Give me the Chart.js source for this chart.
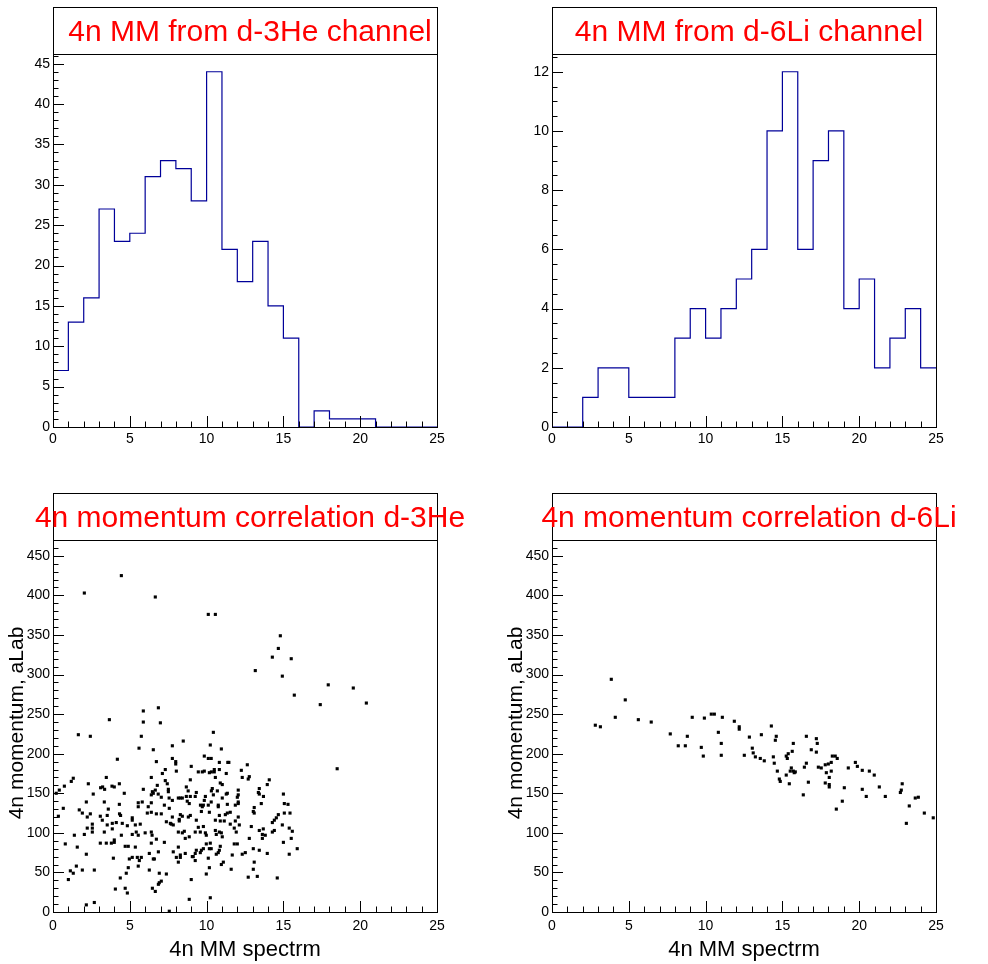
<!DOCTYPE html>
<html>
<head>
<meta charset="utf-8">
<script src="https://cdn.jsdelivr.net/npm/chart.js@4.4.1/dist/chart.umd.min.js"></script>
<style>
html,body{margin:0;padding:0;background:#fff;}
#wrap{position:relative;width:988px;height:964px;overflow:hidden;}
canvas{position:absolute;}
</style>
</head>
<body>
<div id="wrap">
  <canvas id="c1" width="494" height="482" style="left:0;top:0"></canvas>
  <canvas id="c2" width="494" height="482" style="left:494px;top:0"></canvas>
  <canvas id="c3" width="494" height="482" style="left:0;top:482px"></canvas>
  <canvas id="c4" width="494" height="482" style="left:494px;top:482px"></canvas>
</div>
<script>
// bin lower edges (0..24) plus the closing edge 25
const BIN_EDGES = [0,1,2,3,4,5,6,7,8,9,10,11,12,13,14,15,16,17,18,19,20,21,22,23,24,25];
const HIST_3HE = [7,13,16,27,23,24,31,33,32,28,44,22,18,23,15,11,0,2,1,1,1,0,0,0,0];
const HIST_6LI = [0,0,1,2,2,1,1,1,3,4,3,4,5,6,10,12,6,9,10,4,5,2,3,4,2];

const X_TICKS = [0,5,10,15,20,25];
const Y_TICKS_3HE = [0,5,10,15,20,25,30,35,40,45];
const Y_TICKS_6LI = [0,2,4,6,8,10,12];
const Y_TICKS_P = [0,50,100,150,200,250,300,350,400,450];

// [4n MM, 4n momentum]
const SCAT_3HE = [
  [2.04,403],[4.45,425],[6.66,398],[10.11,376],[10.57,376],[5.88,254],[6.86,258],
  [14.8,349],[14.67,333],[14.28,322],[15.51,320],[13.17,305],[14.93,298],[17.92,287],[19.55,283],
  [15.71,274],[17.4,262],[20.4,264],[18.5,181],
  [3.67,243],[5.88,240],[6.99,239],[1.65,224],[2.43,222],[5.75,222],[5.6,207],[6.53,205],[7.77,210],
  [4.19,193],[7.77,194],[6.73,190],[7.31,180],[7.12,175],[1.32,169],[1.19,165],[3.47,170],[6.4,170],
  [7.31,166],[0.74,159],[2.3,162],[3.84,159],[3.99,158],[4.32,162],[3.1,157],[3.23,158],[3.36,155],
  [6.79,160],[7.44,162],[0.41,154],[0.21,150],[2.62,149],[4.64,150],[5.88,155],[6.47,152],[6.4,148],
  [6.53,150],[6.66,154],[6.85,149],[7.51,155],[7.51,152],[7.05,145],[7.56,144],[2.17,139],[3.34,139],
  [4.32,136],[5.55,138],[5.81,139],[6.4,138],[7.25,135],[7.77,141],[0.67,131],[3.6,130],[5.55,133],
  [6.2,133],[7.57,131],[6.4,126],
  [0.35,121],[1.71,129],[1.91,125],[2.23,120],[2.43,124],[3.08,121],[3.53,122],[4.33,124],[4.4,122],
  [5.16,119],[5.16,116],[6.14,125],[6.73,124],[7.05,124],[7.77,120],[3.21,116],[2.56,111],[2.56,106],
  [2.56,101],[2.23,106],[3.53,110],[3.86,112],[4.12,113],[4.51,112],[4.84,109],[5.36,110],[5.68,111],
  [7.38,114],[7.7,111],[7.64,112],[7.83,110],[3.86,105],[3.34,101],[2.04,98],[1.39,97],[4.45,97],
  [5.16,98],[5.42,101],[5.55,97],[6.0,100],[6.4,101],[6.45,97],[3.08,87],[3.47,87],[3.8,87],[3.99,91],
  [3.99,88],[0.8,86],[1.58,82],[4.7,83],[4.9,83],[5.36,82],[6.4,87],[6.73,92],[7.25,88],[2.17,73],
  [7.83,76],[3.93,68],[4.97,67],[5.16,69],[5.49,69],[5.62,65],[5.75,69],[6.53,67],[6.6,67],[6.86,76],
  [6.27,74],[5.55,58],[4.9,56],[1.52,58],[1.13,52],[1.32,49],[1.91,53],[2.69,53],[4.77,49],[6.27,53],
  [6.92,49],[7.38,48],[1.0,41],[4.38,43],[7.05,39],[6.92,37],[6.86,35],[4.06,29],[4.7,30],[4.84,24],
  [6.47,30],[6.66,26],[2.69,12],[2.17,9],[7.57,1],
  [10.44,227],[8.48,216],[10.24,211],[10.96,206],[9.85,197],[10.11,194],[10.3,194],[7.99,187],[7.99,190],
  [10.83,189],[11.38,189],[11.45,189],[9.0,184],[12.65,186],[8.03,178],[9.46,177],[9.72,177],[9.85,178],
  [10.18,176],[10.31,177],[10.5,177],[10.5,180],[10.83,180],[11.28,175],[12.26,179],[10.57,170],
  [12.32,170],[12.71,168],[12.78,171],[8.94,167],[10.89,163],[11.02,161],[14.08,167],[13.95,161],
  [8.68,158],[8.8,153],[10.37,156],[10.31,153],[10.7,153],[9.33,151],[12.06,154],[13.43,156],[13.37,151],
  [13.43,149],[11.35,150],[11.28,149],[8.68,146],[8.94,146],[8.16,144],[8.29,144],[8.42,144],[9.26,146],
  [9.92,146],[10.44,148],[11.02,144],[12.06,148],[12.0,145],[13.7,146],[15.0,149],[8.74,140],[8.87,137],
  [9.85,141],[10.3,139],[10.76,135],[10.76,133],[11.35,136],[12.06,139],[12.06,137],[13.56,137],[9.6,135],
  [9.79,135],[9.72,133],[10.11,135],[11.87,135],[13.1,132],[15.06,137],[15.3,136],
  [8.29,123],[8.42,121],[8.22,117],[8.22,115],[8.81,120],[8.94,122],[9.66,127],[10.18,126],[10.83,122],
  [11.22,123],[11.35,125],[11.54,126],[12.06,120],[13.04,127],[13.1,125],[14.67,123],[15.06,125],
  [15.43,125],[14.54,119],[14.41,116],[14.28,113],[9.33,116],[10.57,116],[10.89,115],[11.15,115],
  [11.87,115],[11.54,111],[12.13,110],[12.91,108],[14.93,110],[9.46,107],[9.79,108],[11.8,106],
  [13.43,103],[13.69,105],[15.38,106],[15.58,102],[8.16,101],[8.42,100],[8.55,102],[9.26,101],[9.59,101],
  [9.92,100],[9.98,97],[10.57,103],[10.63,98],[10.83,101],[10.96,100],[11.02,95],[11.93,101],[13.63,98],
  [13.82,97],[14.28,101],[14.41,103],[8.61,93],[8.87,95],[12.78,93],[13.63,93],[15.51,93],[10.24,87],
  [9.98,86],[10.18,80],[10.3,80],[11.8,86],[12.0,86],[15.0,88],[10.89,83],[10.83,78],[10.76,75],
  [10.63,73],[8.16,82],[8.61,74],[9.33,78],[9.26,74],[9.13,70],[9.66,78],[9.79,80],[9.59,75],[10.11,68],
  [8.03,69],[8.29,69],[8.29,72],[8.16,63],[9.07,70],[9.26,65],[11.67,72],[12.32,73],[12.52,75],[13.04,80],
  [13.43,78],[13.95,74],[15.38,73],[15.9,80],[11.09,63],[10.96,60],[13.1,63],[10.18,56],[11.6,54],
  [13.04,54],[9.98,48],[12.71,44],[13.3,45],[14.6,43],[9.0,41],[8.87,16],[10.24,18]
];

const SCAT_6LI = [
  [2.82,236],[3.15,234],[3.86,294],[4.12,246],[4.77,268],[5.62,243],[6.46,240],[7.7,225],[8.22,210],
  [8.68,210],[8.81,222],[9.13,246],[9.72,208],[9.85,197],[9.92,245],[10.37,250],[10.57,250],[10.83,227],
  [11.02,213],[11.09,246],[11.02,198],[11.87,241],[12.19,231],[12.19,234],[12.52,198],[12.85,221],
  [13.04,207],[13.1,201],[13.24,196],[13.56,194],[13.63,224],[13.82,191],[14.28,235],[14.41,196],
  [14.47,188],[14.54,217],[14.6,222],[14.67,178],[14.8,168],[14.86,165],[15.25,173],[15.25,197],
  [15.32,194],[15.38,200],[15.45,162],[15.51,178],[15.58,182],[15.64,203],[15.71,213],[15.71,178],
  [15.77,176],[15.84,177],[16.36,148],[16.43,183],[16.56,188],[16.56,222],[16.69,164],[16.88,205],
  [17.21,219],[17.27,213],[17.21,202],[17.34,183],[17.53,182],[17.79,186],[17.99,187],[17.79,163],
  [17.86,176],[18.05,170],[18.05,161],[18.05,158],[18.18,189],[18.18,178],[18.25,197],[18.44,197],
  [18.57,194],[18.51,130],[18.9,140],[19.03,157],[19.29,182],[19.75,189],[19.88,184],[20.2,179],
  [20.2,155],[20.46,146],[20.66,178],[20.98,173],[21.31,158],[21.7,146],[22.68,151],[22.74,154],
  [22.8,162],[23.07,112],[23.26,134],[23.65,144],[23.85,145],[24.24,125],[24.82,119]
];

const FONT = '"Liberation Sans", Arial, Helvetica, sans-serif';
Chart.defaults.font.family = FONT;
Chart.defaults.font.size = 14;
Chart.defaults.color = '#000';

// ROOT-like frame: box, inward ticks, title box, axis titles
const rootFrame = {
  id: 'rootFrame',
  afterDatasetsDraw(chart, args, o) {
    const {ctx, chartArea: a, scales: {x, y}} = chart;
    const h = v => Math.round(v) + 0.5;
    ctx.save();
    ctx.strokeStyle = '#000';
    ctx.lineWidth = 1;
    ctx.beginPath();
    const n = Math.round((x.max - x.min) / o.xMinor);
    for (let i = 0; i <= n; i++) {
      const v = x.min + i * o.xMinor;
      const major = Math.abs(v / o.xMajor - Math.round(v / o.xMajor)) < 1e-6;
      const X = h(x.getPixelForValue(v));
      ctx.moveTo(X, a.bottom); ctx.lineTo(X, a.bottom - (major ? 11 : 5.5));
    }
    const m = Math.floor((y.max - y.min) / o.yMinor + 1e-6);
    for (let i = 0; i <= m; i++) {
      const v = y.min + i * o.yMinor;
      const major = Math.abs(v / o.yMajor - Math.round(v / o.yMajor)) < 1e-6;
      const Y = h(y.getPixelForValue(v));
      ctx.moveTo(a.left, Y); ctx.lineTo(a.left + (major ? 11 : 5.5), Y);
    }
    ctx.stroke();
    ctx.strokeRect(h(a.left), h(a.top), Math.round(a.right - a.left), Math.round(a.bottom - a.top));

    // title box
    const bt = a.top - 47;
    ctx.fillStyle = '#fff';
    ctx.fillRect(h(a.left), h(bt), Math.round(a.right - a.left), 47);
    ctx.strokeRect(h(a.left), h(bt), Math.round(a.right - a.left), 47);
    ctx.fillStyle = '#ff0000';
    ctx.font = '30px ' + FONT;
    ctx.textAlign = 'center';
    ctx.textBaseline = 'alphabetic';
    ctx.fillText(o.title, (a.left + a.right) / 2 + 5, a.top - 13);

    if (o.xTitle) {
      ctx.fillStyle = '#000';
      ctx.font = '22px ' + FONT;
      ctx.fillText(o.xTitle, (a.left + a.right) / 2, a.bottom + 44);
    }
    if (o.yTitle) {
      ctx.fillStyle = '#000';
      ctx.font = '21px ' + FONT;
      ctx.translate(a.left - 30, (a.top + a.bottom) / 2 - 3);
      ctx.rotate(-Math.PI / 2);
      ctx.fillText(o.yTitle, 0, 0);
    }
    ctx.restore();
  }
};

function makePad(id, area, datasets, yMax, yTicks, frame, xPad) {
  const W = 494, H = 482;
  new Chart(document.getElementById(id), {
    type: 'line',
    data: {datasets},
    options: {
      responsive: false,
      animation: false,
      events: [],
      layout: {padding: {left: 0, top: area.top, right: W - area.right, bottom: 0}},
      plugins: {legend: {display: false}, tooltip: {enabled: false}, rootFrame: frame},
      scales: {
        x: {
          type: 'linear', min: 0, max: 25,
          grid: {display: false, drawTicks: false},
          border: {display: false},
          afterBuildTicks: s => { s.ticks = X_TICKS.map(v => ({value: v})); },
          afterFit: s => { s.height = H - area.bottom; },
          ticks: {padding: xPad, autoSkip: false, maxRotation: 0, font: {size: 14}}
        },
        y: {
          type: 'linear', min: 0, max: yMax,
          grid: {display: false, drawTicks: false},
          border: {display: false},
          afterBuildTicks: s => { s.ticks = yTicks.map(v => ({value: v})); },
          afterFit: s => { s.width = area.left; },
          ticks: {padding: 3, autoSkip: false, font: {size: 14}}
        }
      }
    },
    plugins: [rootFrame]
  });
}

const histLine = vals => ({
  data: BIN_EDGES.map((e, i) => ({x: e, y: vals[Math.min(i, vals.length - 1)]})),
  stepped: 'before',
  borderColor: '#000099',
  borderWidth: 1.2,
  pointRadius: 0,
  fill: false
});
const dots = pts => ({
  type: 'scatter',
  data: pts.map(p => ({x: p[0], y: p[1]})),
  pointStyle: 'rect',
  pointRadius: 2.2,
  borderWidth: 0,
  backgroundColor: '#000',
  showLine: false
});

makePad('c1', {left: 53, top: 54, right: 437, bottom: 427}, [histLine(HIST_3HE)], 46.2, Y_TICKS_3HE,
  {title: '4n MM from d-3He channel', xMinor: 1, xMajor: 5, yMinor: 1, yMajor: 5}, 4);
makePad('c2', {left: 58, top: 54, right: 442, bottom: 427}, [histLine(HIST_6LI)], 12.6, Y_TICKS_6LI,
  {title: '4n MM from d-6Li channel', xMinor: 1, xMajor: 5, yMinor: 0.5, yMajor: 2}, 4);
makePad('c3', {left: 53, top: 58, right: 437, bottom: 430}, [dots(SCAT_3HE)], 470, Y_TICKS_P,
  {title: '4n momentum correlation d-3He', xMinor: 1, xMajor: 5, yMinor: 10, yMajor: 50,
   xTitle: '4n MM spectrm', yTitle: '4n momentum, aLab'}, 6);
makePad('c4', {left: 58, top: 58, right: 442, bottom: 430}, [dots(SCAT_6LI)], 470, Y_TICKS_P,
  {title: '4n momentum correlation d-6Li', xMinor: 1, xMajor: 5, yMinor: 10, yMajor: 50,
   xTitle: '4n MM spectrm', yTitle: '4n momentum, aLab'}, 6);
</script>
</body>
</html>
